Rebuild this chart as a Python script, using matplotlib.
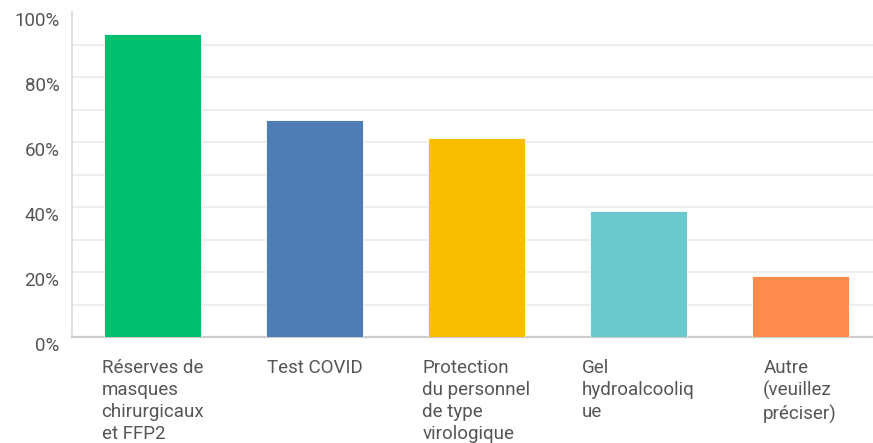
import matplotlib
matplotlib.use("Agg")
import matplotlib.pyplot as plt
import matplotlib.transforms as mtransforms

# données
categories = [
    "Réserves de\nmasques\nchirurgicaux\net FFP2",
    "Test COVID",
    "Protection\ndu personnel\nde type\nvirologique",
    "Gel\nhydroalcooliq\nue",
    "Autre\n(veuillez\npréciser)",
]
values = [93.3, 66.7, 61.1, 38.9, 18.8]
colors = ["#00BF6F", "#507CB6", "#F9BE00", "#6BC8CD", "#FF8B4F"]
yticks = [0, 20, 40, 60, 80, 100]
ytick_labels = ["0%", "20%", "40%", "60%", "80%", "100%"]

plt.rcParams["font.family"] = ["Roboto", "DejaVu Sans"]

fig = plt.figure(figsize=(8.73, 4.43), dpi=100)
ax = fig.add_axes([72 / 873, 1 - 337 / 443, 809 / 873, 325 / 443])

x = list(range(len(values)))
ax.bar(x, values, width=0.6, color=colors, edgecolor="white", linewidth=0.6, zorder=3)

ax.set_xlim(-0.5, 4.5)
ax.set_ylim(0, 100)

# grille tous les 10 %
for g in range(10, 100, 10):
    ax.axhline(g, color="#ebebeb", linewidth=1.2, zorder=1)

ax.set_yticks(yticks)
ax.set_yticklabels(ytick_labels, fontsize=13.5, color="#555555")
ax.tick_params(axis="y", length=0, pad=9)
offset = mtransforms.ScaledTranslation(0, -7 / 100, fig.dpi_scale_trans)
for lab in ax.get_yticklabels():
    lab.set_transform(lab.get_transform() + offset)

ax.set_xticks(x)
ax.set_xticklabels(categories, fontsize=13.5, color="#555555",
                   multialignment="left", linespacing=1.3)
ax.tick_params(axis="x", length=0, pad=15.5)

for side in ["top", "right"]:
    ax.spines[side].set_visible(False)
ax.spines["left"].set_color("#d9d9d9")
ax.spines["left"].set_linewidth(1.2)
ax.spines["bottom"].set_color("#cccccc")
ax.spines["bottom"].set_linewidth(1.6)

fig.savefig("out.png", dpi=100)
